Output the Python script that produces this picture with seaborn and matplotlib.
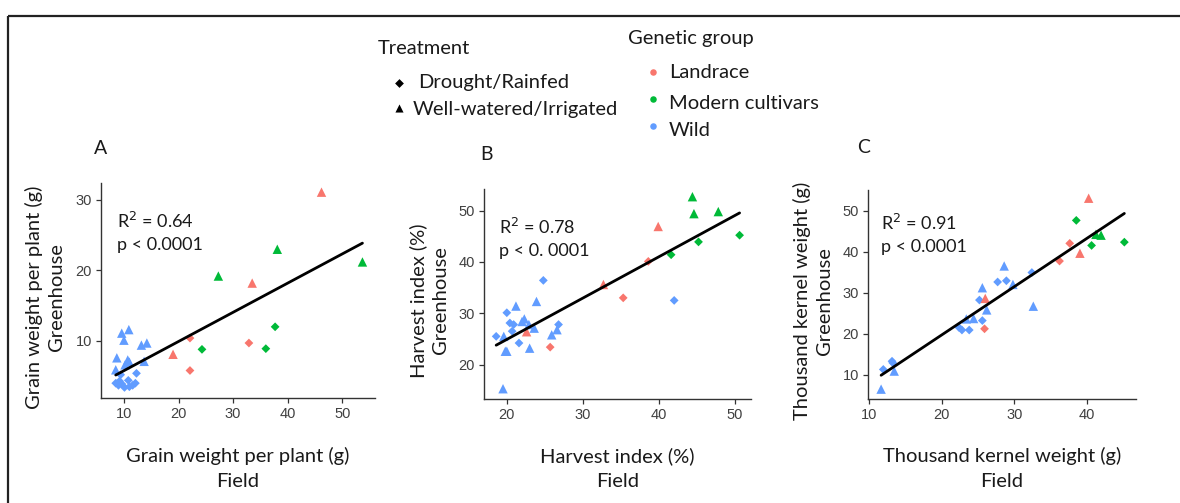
import matplotlib
matplotlib.use("Agg")
import matplotlib.pyplot as plt
import numpy as np
import pandas as pd
import seaborn as sns

sns.set_theme(style="ticks")
plt.rcParams["font.family"] = ["Lato", "DejaVu Sans"]

# ---- groups, treatments and styling keys ----
group_names = {"L": "Landrace", "M": "Modern cultivars", "W": "Wild"}
treatment_names = {"D": "Drought/Rainfed", "I": "Well-watered/Irrigated"}
palette = {"Landrace": "#F8766D", "Modern cultivars": "#00BA38", "Wild": "#619CFF"}
marker_map = {"Drought/Rainfed": "D", "Well-watered/Irrigated": "^"}

# ---- A: grain weight per plant (g) ----
a_field = [46.2, 33.5, 19.0, 22.1, 32.9, 22.1,
           38.1, 53.7, 27.3, 37.7, 24.3, 36.0,
           9.6, 10.9, 10.0, 13.2, 14.2, 8.7, 8.5, 10.7, 11.0, 13.7, 10.2,
           12.3, 9.4, 8.5, 9.0, 9.6, 10.1, 10.8, 11.0, 11.6, 12.1, 9.2]
a_greenhouse = [31.1, 18.2, 8.1, 10.4, 9.7, 5.8,
                23.0, 21.2, 19.2, 12.0, 8.8, 8.9,
                11.1, 11.6, 10.1, 9.4, 9.7, 7.6, 5.9, 7.3, 7.0, 7.1, 6.6,
                5.4, 5.2, 4.0, 3.7, 3.9, 3.4, 4.4, 3.5, 3.7, 4.0, 4.3]
a_group = list("LLLLLL" + "MMMMMM" + "W" * 22)
a_treatment = list("IIIDDD" + "IIIDDD" + "I" * 11 + "D" * 11)

# ---- B: harvest index (%) ----
b_field = [44.4, 44.6, 47.8, 50.6, 45.2, 41.6,
           39.9, 38.6, 32.7, 35.3, 22.6, 25.7,
           42.0, 24.8, 19.5, 21.2, 23.9, 20.0, 20.4, 20.9, 22.0, 22.3, 22.9,
           23.6, 20.7, 18.6, 19.6, 21.6, 19.8, 20.0, 23.0, 25.9, 26.6, 26.8]
b_greenhouse = [52.7, 49.4, 49.8, 45.2, 43.9, 41.4,
                46.9, 40.1, 35.6, 33.0, 26.4, 23.4,
                32.5, 36.4, 15.3, 31.4, 32.3, 30.1, 28.1, 27.8, 28.4, 28.9, 27.8,
                27.1, 26.5, 25.5, 25.5, 24.2, 22.6, 22.6, 23.2, 25.8, 26.8, 27.8]
b_group = list("MMMMMM" + "LLLLLL" + "W" * 22)
b_treatment = list("IIIDDD" + "IDIDID" + "DDIIIDDDIIIIDDIDIIIIID")

# ---- C: thousand kernel weight (g) ----
c_field = [40.2, 37.6, 39.0, 36.2, 26.0, 25.9,
           38.5, 41.2, 41.9, 45.1, 40.6,
           28.6, 27.7, 28.9, 29.8, 32.4, 32.6, 25.6, 25.2, 26.2, 25.6, 24.4,
           23.4, 22.4, 22.8, 23.8, 13.2, 13.3, 12.0, 13.5, 11.7]
c_greenhouse = [53.0, 42.0, 39.6, 37.7, 28.6, 21.2,
                47.6, 44.2, 44.0, 42.3, 41.5,
                36.5, 32.6, 32.9, 32.0, 34.9, 26.7, 31.2, 28.2, 25.8, 23.2, 23.7,
                23.6, 21.5, 20.9, 20.9, 13.3, 12.9, 11.3, 10.9, 6.5]
c_group = list("LLLLLL" + "MMMMM" + "W" * 20)
c_treatment = list("IDIDID" + "DIIDD" + "IDDIDIIDIDIIDDDDDDII")

panels = [
    dict(letter="A", field=a_field, green=a_greenhouse, group=a_group, treat=a_treatment,
         label="Grain weight per plant (g)", r2="0.64", p="p < 0.0001",
         xlim=(5.8, 56.0), ylim=(1.9, 32.4), xticks=[10, 20, 30, 40, 50], yticks=[10, 20, 30],
         rect=[101, 183, 375, 398], letter_xy=(101, 148), text_x=0.058, text_y=(0.823, 0.712)),
    dict(letter="B", field=b_field, green=b_greenhouse, group=b_group, treat=b_treatment,
         label="Harvest index (%)", r2="0.78", p="p < 0. 0001",
         xlim=(17.0, 52.1), ylim=(13.3, 54.2), xticks=[20, 30, 40, 50], yticks=[20, 30, 40, 50],
         rect=[484, 189, 751, 399], letter_xy=(486, 154), text_x=0.057, text_y=(0.819, 0.703)),
    dict(letter="C", field=c_field, green=c_greenhouse, group=c_group, treat=c_treatment,
         label="Thousand kernel weight (g)", r2="0.91", p="p < 0.0001",
         xlim=(9.9, 46.7), ylim=(4.1, 55.0), xticks=[10, 20, 30, 40], yticks=[10, 20, 30, 40, 50],
         rect=[868, 190, 1136, 399], letter_xy=(864, 147), text_x=0.047, text_y=(0.84, 0.725)),
]

W, H = 1180, 503
fig = plt.figure(figsize=(W / 100, H / 100), dpi=100)

TEXT = "#1a1a1a"

for pnl in panels:
    l, t, r, b = pnl["rect"]
    ax = fig.add_axes([l / W, (H - b) / H, (r - l) / W, (b - t) / H])
    df = pd.DataFrame({
        "field": pnl["field"],
        "greenhouse": pnl["green"],
        "group": [group_names[g] for g in pnl["group"]],
        "treatment": [treatment_names[s] for s in pnl["treat"]],
    })
    for trt, mk in marker_map.items():
        sub = df[df["treatment"] == trt]
        sns.scatterplot(data=sub, x="field", y="greenhouse", hue="group", palette=palette,
                        marker=mk, s=20 if mk == "D" else 46, linewidth=0,
                        legend=False, ax=ax, zorder=2)
    sns.regplot(data=df, x="field", y="greenhouse", scatter=False, ci=None, ax=ax,
                line_kws=dict(color="black", lw=2.0, zorder=3))
    ax.set_xlim(*pnl["xlim"])
    ax.set_ylim(*pnl["ylim"])
    ax.set_xticks(pnl["xticks"])
    ax.set_yticks(pnl["yticks"])
    for s in ("top", "right"):
        ax.spines[s].set_visible(False)
    for s in ("left", "bottom"):
        ax.spines[s].set_color("#333333")
        ax.spines[s].set_linewidth(1.0)
    ax.tick_params(length=3.5, width=0.9, color="#333333", labelcolor="#404040",
                   labelsize=10.5, pad=3)
    for lab in ax.get_xticklabels() + ax.get_yticklabels():
        lab.set_fontfamily(["Liberation Sans", "DejaVu Sans"])

    ax.set_xlabel(pnl["label"] + "\nField", fontsize=14.5, color=TEXT, linespacing=1.6)
    ax.set_ylabel(pnl["label"] + "\nGreenhouse", fontsize=14.5, color=TEXT, linespacing=1.4)
    ax.xaxis.set_label_coords(0.5, -0.228)
    ax.yaxis.set_label_coords(-0.13, 0.47)

    ax.text(pnl["text_x"], pnl["text_y"][0], "R$^2$ = " + pnl["r2"], transform=ax.transAxes,
            fontsize=13, color=TEXT, va="center", ha="left")
    ax.text(pnl["text_x"], pnl["text_y"][1], pnl["p"], transform=ax.transAxes,
            fontsize=13, color=TEXT, va="center", ha="left")
    fig.text(pnl["letter_xy"][0] / W, 1 - pnl["letter_xy"][1] / H, pnl["letter"],
             fontsize=14, color=TEXT, ha="center", va="center")

# ---- shared legends, drawn on a pixel-space overlay ----
lg = fig.add_axes([0, 0, 1, 1], zorder=5)
lg.set_xlim(0, W)
lg.set_ylim(H, 0)
lg.axis("off")

txt_kw = dict(fontsize=14.5, color=TEXT, va="center", ha="left")
lg.text(378, 48, "Treatment", **txt_kw)
lg.scatter([399], [83], marker="D", s=20, color="black", linewidth=0)
lg.text(418, 82, "Drought/Rainfed", **txt_kw)
lg.scatter([399], [108], marker="^", s=34, color="black", linewidth=0)
lg.text(413, 109, "Well-watered/Irrigated", **txt_kw)

lg.text(628, 38, "Genetic group", **txt_kw)
for yy, ty, name in [(72, 72, "Landrace"), (99, 103, "Modern cultivars"), (126, 130, "Wild")]:
    lg.scatter([653], [yy], marker="o", s=22, color=palette[name], linewidth=0)
    lg.text(669, ty, name, **txt_kw)

# outer frame (left and top edges)
lg.plot([8.3, 8.3], [16, H], color="#222222", lw=1.6, solid_capstyle="butt")
lg.plot([8.3, W], [16, 16], color="#222222", lw=1.6, solid_capstyle="butt")

fig.savefig("out.png", dpi=100)
